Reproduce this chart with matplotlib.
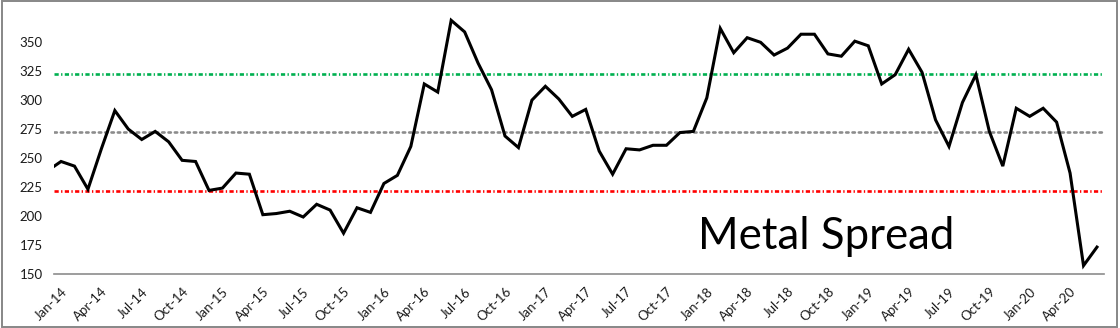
import matplotlib.pyplot as plt
from matplotlib.patches import Rectangle

# monthly metal spread, Dec-13 .. Jun-20 (Dec-13 only feeds the left edge of the line)
months = ['Dec-13',
          'Jan-14', 'Feb-14', 'Mar-14', 'Apr-14', 'May-14', 'Jun-14', 'Jul-14', 'Aug-14', 'Sep-14', 'Oct-14', 'Nov-14', 'Dec-14',
          'Jan-15', 'Feb-15', 'Mar-15', 'Apr-15', 'May-15', 'Jun-15', 'Jul-15', 'Aug-15', 'Sep-15', 'Oct-15', 'Nov-15', 'Dec-15',
          'Jan-16', 'Feb-16', 'Mar-16', 'Apr-16', 'May-16', 'Jun-16', 'Jul-16', 'Aug-16', 'Sep-16', 'Oct-16', 'Nov-16', 'Dec-16',
          'Jan-17', 'Feb-17', 'Mar-17', 'Apr-17', 'May-17', 'Jun-17', 'Jul-17', 'Aug-17', 'Sep-17', 'Oct-17', 'Nov-17', 'Dec-17',
          'Jan-18', 'Feb-18', 'Mar-18', 'Apr-18', 'May-18', 'Jun-18', 'Jul-18', 'Aug-18', 'Sep-18', 'Oct-18', 'Nov-18', 'Dec-18',
          'Jan-19', 'Feb-19', 'Mar-19', 'Apr-19', 'May-19', 'Jun-19', 'Jul-19', 'Aug-19', 'Sep-19', 'Oct-19', 'Nov-19', 'Dec-19',
          'Jan-20', 'Feb-20', 'Mar-20', 'Apr-20', 'May-20', 'Jun-20']
spread = [239,
          247, 243, 223, 258, 291, 275, 266, 273, 264, 248, 247, 222,
          224, 237, 236, 201, 202, 204, 199, 210, 205, 185, 207, 203,
          228, 235, 260, 314, 307, 369, 359, 332, 309, 269, 259, 300,
          312, 301, 286, 292, 256, 236, 258, 257, 261, 261, 272, 273,
          302, 362, 341, 354, 350, 339, 345, 357, 357, 340, 338, 351,
          347, 314, 322, 344, 324, 283, 260, 298, 322, 273, 243, 293,
          286, 293, 281, 237, 157, 173]

mean_level = 272.2
upper_level = 322.5
lower_level = 221.2

plt.rcParams['font.family'] = ['Lato', 'DejaVu Sans']

W, H = 1120, 328
fig = plt.figure(figsize=(W / 100, H / 100), dpi=100)
left, right, top, bottom = 54.3, 1103.7, 13.4, 273.7
ax = fig.add_axes([left / W, 1 - bottom / H, (right - left) / W, (bottom - top) / H])

x = list(range(-1, len(spread) - 1))
ax.plot(x, spread, color='black', lw=2.2, solid_joinstyle='miter', zorder=3)

ax.axhline(upper_level, color='#00B050', lw=1.9, ls=(0, (1.6, 0.9, 0.5, 0.9)), zorder=2)
ax.axhline(mean_level, color='#8C8C8C', lw=1.9, ls=(0, (0.9, 1.5)), dash_capstyle='round', zorder=2)
ax.axhline(lower_level, color='#FF0000', lw=1.9, ls=(0, (1.6, 0.9, 0.5, 0.9)), zorder=2)

n = len(spread) - 1
ax.set_xlim(-0.5, n - 0.5)
ax.set_ylim(150, 375)
ax.set_yticks(range(150, 351, 25))

ticks = list(range(0, n, 3))
ax.set_xticks(ticks)
ax.set_xticklabels([months[i + 1] for i in ticks], rotation=45, ha='right', va='top',
                   rotation_mode='anchor')
ax.tick_params(axis='x', length=0, pad=8.5, labelsize=9.5, labelcolor='#1a1a1a')
ax.tick_params(axis='y', length=0, pad=8.4, labelsize=9.5, labelcolor='#1a1a1a')

for side in ['top', 'right', 'left']:
    ax.spines[side].set_visible(False)
ax.spines['bottom'].set_color('#8C8C8C')
ax.spines['bottom'].set_linewidth(1.2)

fig.text(698 / W, 1 - 249 / H, 'Metal Spread', fontsize=31.5, color='black',
         ha='left', va='baseline')

# chart frame
fig.patches.append(Rectangle((0.0015, 0.003), 0.996, 0.993, transform=fig.transFigure,
                             fill=False, edgecolor='#878787', lw=1.4))

fig.savefig('out.png', dpi=100)
